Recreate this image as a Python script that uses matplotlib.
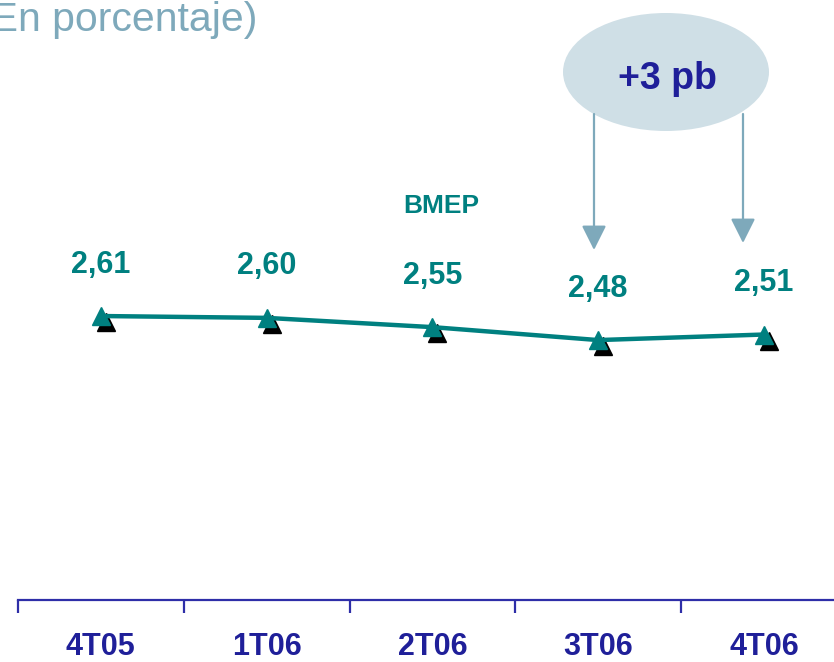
import matplotlib
matplotlib.use("Agg")
import matplotlib.pyplot as plt
from matplotlib.patches import Ellipse, FancyArrowPatch
from matplotlib.transforms import offset_copy

plt.rcParams['font.family'] = ['Liberation Sans', 'DejaVu Sans']

# data
quarters = ['4T05', '1T06', '2T06', '3T06', '4T06']
bmep = [2.61, 2.60, 2.55, 2.48, 2.51]
value_labels = ['2,61', '2,60', '2,55', '2,48', '2,51']
series_name = 'BMEP'
change_label = '+3 pb'
subtitle = '(En porcentaje)'

teal = '#008080'
navy = '#1f1f99'
axis_blue = '#2e2ea8'
pale = '#7ea9bb'
bubble = '#cfdfe6'

W, H = 834, 662
fig = plt.figure(figsize=(W / 100, H / 100), dpi=100)
# axis spans from the first tick (x=18px) in 165.75px steps, bottom spine at y=600px
ax = fig.add_axes([18 / W, 62 / H, 5 * 165.75 / W, 600 / H])
ax.set_xlim(0, 5)
ax.set_ylim(1.075, 1.075 + 600 / 185)

xs = [i + 0.5 for i in range(len(quarters))]

# black shadow triangles, slightly down-right of the real markers
shadow = offset_copy(ax.transData, fig=fig, x=5, y=-6, units='dots')
ax.plot(xs, bmep, linestyle='none', marker='^', markersize=13.5,
        color='black', transform=shadow, zorder=2)
ax.plot(xs, bmep, color=teal, linewidth=3.2, zorder=3)
ax.plot(xs, bmep, linestyle='none', marker='^', markersize=13.5,
        color=teal, zorder=4)

for x, v, lab in zip(xs, bmep, value_labels):
    ax.annotate(lab, (x, v), xytext=(0, 37), textcoords='offset points',
                ha='center', va='center', fontsize=22, fontweight='bold',
                color=teal)

# axis styling
for s in ['top', 'right', 'left']:
    ax.spines[s].set_visible(False)
ax.spines['bottom'].set_color(axis_blue)
ax.spines['bottom'].set_linewidth(1.6)
ax.set_yticks([])
ax.set_xticks(range(len(quarters) + 1))
ax.set_xticklabels([])
ax.tick_params(axis='x', which='major', direction='out', length=9,
               width=1.6, color=axis_blue)
ax.set_xticks(xs, minor=True)
ax.set_xticklabels(quarters, minor=True, fontsize=22, fontweight='bold',
                   color=navy)
ax.tick_params(axis='x', which='minor', length=0, pad=23)

# series name
fig.text(441 / W, 1 - 206 / H, series_name, ha='center', va='center',
         fontsize=19, fontweight='bold', color=teal)

# subtitle cut at the left edge
fig.text(257 / W, 1 - 31 / H, subtitle, ha='right', va='baseline',
         fontsize=29.5, color=pale)

# change bubble with arrows
fig.patches.append(Ellipse((666 / W, 1 - 72 / H), 206 / W, 118 / H,
                           transform=fig.transFigure, facecolor=bubble,
                           edgecolor='none', zorder=1))
fig.text(667 / W, 1 - 79 / H, change_label, ha='center', va='center',
         fontsize=27, fontweight='bold', color=navy, zorder=5)
for x0, y_tip in [(594, 250), (743, 243)]:
    fig.patches.append(FancyArrowPatch(
        (x0 / W, 1 - 114 / H), (x0 / W, 1 - y_tip / H),
        transform=fig.transFigure, arrowstyle='-|>,head_length=1.0,head_width=0.5',
        mutation_scale=15, color=pale, linewidth=1.6, shrinkA=0, shrinkB=0))

plt.savefig('out.png', dpi=100)
